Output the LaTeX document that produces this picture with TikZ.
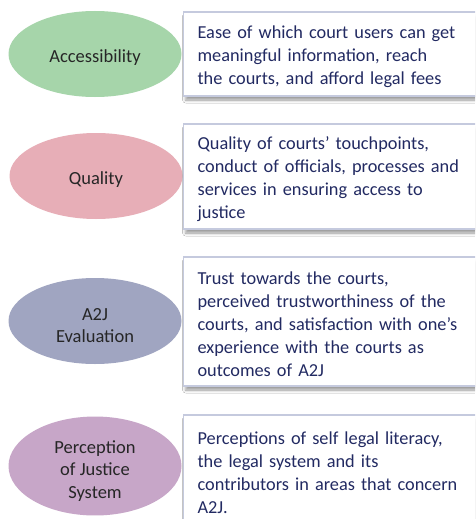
\documentclass[tikz,border=0pt]{standalone}
\usepackage{fontspec}
\setmainfont{Carlito}
\usetikzlibrary{shapes.geometric,shadows.blur}

\definecolor{accgreen}{RGB}{166,213,170}
\definecolor{qualpink}{RGB}{231,174,183}
\definecolor{evalblue}{RGB}{160,165,193}
\definecolor{percpurple}{RGB}{199,166,200}
\definecolor{desctext}{RGB}{34,42,98}
\definecolor{descline}{RGB}{197,202,222}

% taller first line pushes the text a little lower
\newcommand{\toplinestrut}[1]{\rule{0pt}{#1}}

\tikzset{
    dimension/.style={ellipse, minimum width=173pt, minimum height=86pt, inner sep=0pt,
        align=center, font=\fontsize{18.5}{22.5}\selectfont, text=black!85},
    descbox/.style={rectangle, anchor=west, draw=descline, line width=1.2pt, fill=white,
        text width=276pt, inner xsep=14pt, align=left, text=desctext,
        font=\fontsize{18.3}{23}\selectfont, execute at begin node=\toplinestrut{19pt},
        blur shadow={shadow xshift=2pt, shadow yshift=-4pt, shadow blur radius=3pt, shadow opacity=40}}
}

\begin{document}
\begin{tikzpicture}[x=1pt,y=-1pt]
            \clip (0,0) rectangle (475,519);
            \fill[white] (0,0) rectangle (475,519);
            % dimensions on the left
            \node[dimension, fill=accgreen]   (acc)  at (95,54)  {\toplinestrut{20pt}Accessibility};
            \node[dimension, fill=qualpink]   (qual) at (96,176) {\toplinestrut{20pt}Quality};
            \node[dimension, fill=evalblue]   (eval) at (95,321) {\toplinestrut{21pt}A2J\\Evaluation};
            \node[dimension, fill=percpurple] (perc) at (95,466) {\toplinestrut{22pt}Perception\\of Justice\\System};
            % descriptions on the right
            \node[descbox, minimum height=84pt]  (accdesc)  at (183,54)
                {Ease of which court users can get\\meaningful information, reach\\the courts, and afford legal fees};
            \node[descbox, minimum height=105pt] (qualdesc) at (183,176.5)
                {Quality of courts’ touchpoints,\\conduct of officials, processes and\\services in ensuring access to\\justice};
            \node[descbox, minimum height=129pt] (evaldesc) at (183,321.5)
                {Trust towards the courts,\\perceived trustworthiness of the\\courts, and satisfaction with one’s\\experience with the courts as\\outcomes of A2J};
            \node[descbox, minimum height=110pt] (percdesc) at (183,470)
                {Perceptions of self legal literacy,\\the legal system and its\\contributors in areas that concern\\A2J.};
        \end{tikzpicture}
\end{document}
